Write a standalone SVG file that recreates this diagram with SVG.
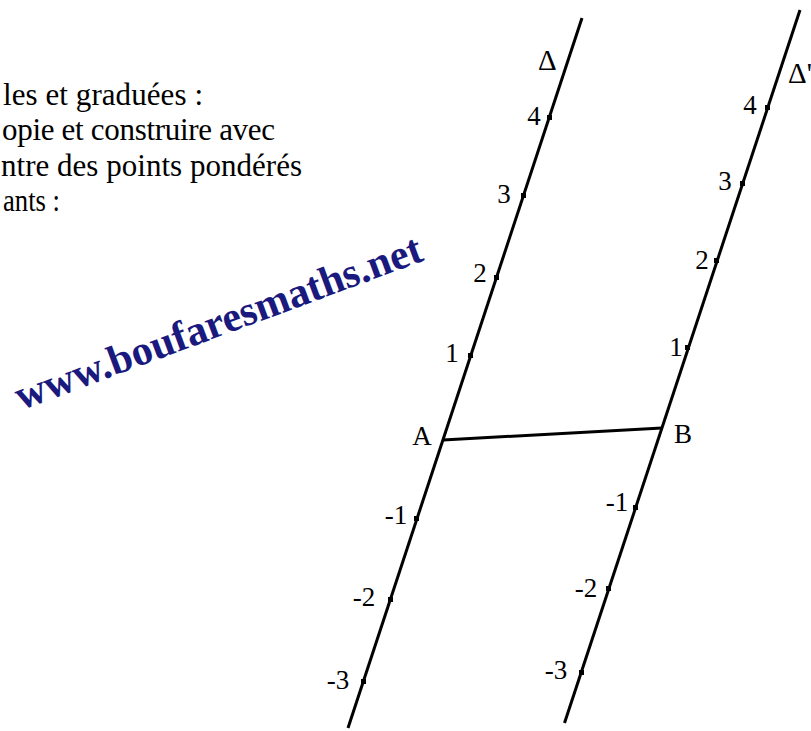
<svg xmlns="http://www.w3.org/2000/svg" width="811" height="731" viewBox="0 0 811 731">
<style>
.intro{font-family:"Liberation Serif","Times New Roman",serif;font-size:31px;fill:#000}
.lbl{font-family:"Liberation Serif","Times New Roman",serif;font-size:27px;fill:#000;text-anchor:middle}
.delta{font-family:"Liberation Serif","Times New Roman",serif;font-size:29px;fill:#000}
.axis{stroke:#000;stroke-width:3;fill:none;stroke-linecap:butt}
.tick{fill:#000}
.wm{font-family:"Liberation Serif","Times New Roman",serif;font-size:42px;font-weight:bold;fill:#1a1a7e;text-anchor:end}
</style>
<rect width="811" height="731" fill="#fff"/>
<g id="intro-text">
<text class="intro" x="3" y="105" textLength="200" lengthAdjust="spacing">les et graduées :</text>
<text class="intro" x="2" y="140" textLength="273" lengthAdjust="spacing">opie et construire avec</text>
<text class="intro" x="1" y="176" textLength="301" lengthAdjust="spacing">ntre des points pondérés</text>
<text class="intro" x="3" y="211" textLength="57" lengthAdjust="spacingAndGlyphs">ants :</text>
</g>
<g id="watermark">
<text class="wm" transform="translate(425,260) rotate(-20.4)" x="0" y="0">www.boufaresmaths.net</text>
</g>
<g id="connectors">
<line id="segment-AB" class="axis" x1="443" y1="440" x2="662" y2="428"/>
</g>
<g id="line-delta">
<line class="axis" x1="582" y1="18" x2="348" y2="728"/>
<rect class="tick" x="547" y="115" width="5" height="5"/>
<rect class="tick" x="521" y="193" width="5" height="5"/>
<rect class="tick" x="494" y="275" width="5" height="5"/>
<rect class="tick" x="468" y="353" width="5" height="5"/>
<rect class="tick" x="414" y="516" width="5" height="5"/>
<rect class="tick" x="388" y="597" width="5" height="5"/>
<rect class="tick" x="361" y="679" width="5" height="5"/>
<text class="delta" x="538" y="70">Δ</text>
<text class="lbl" x="534" y="125">4</text>
<text class="lbl" x="504" y="203">3</text>
<text class="lbl" x="480" y="282">2</text>
<text class="lbl" x="452" y="362">1</text>
<text class="lbl" x="396" y="524">-1</text>
<text class="lbl" x="364" y="606">-2</text>
<text class="lbl" x="338" y="689">-3</text>
</g>
<g id="line-delta-prime">
<line class="axis" x1="800" y1="10" x2="564.5" y2="723"/>
<rect class="tick" x="765" y="105" width="5" height="5"/>
<rect class="tick" x="740" y="181" width="5" height="5"/>
<rect class="tick" x="714" y="258" width="5" height="5"/>
<rect class="tick" x="685" y="345" width="5" height="5"/>
<rect class="tick" x="633" y="505" width="5" height="5"/>
<rect class="tick" x="606" y="586" width="5" height="5"/>
<rect class="tick" x="579" y="670" width="5" height="5"/>
<text class="delta" x="788" y="83">Δ'</text>
<text class="lbl" x="750" y="114">4</text>
<text class="lbl" x="725" y="190">3</text>
<text class="lbl" x="702" y="269">2</text>
<text class="lbl" x="676" y="356">1</text>
<text class="lbl" x="617" y="511">-1</text>
<text class="lbl" x="586" y="597">-2</text>
<text class="lbl" x="556" y="679">-3</text>
</g>
<g id="point-A">
<text class="lbl" x="422" y="445">A</text>
</g>
<g id="point-B">
<text class="lbl" x="683" y="443">B</text>
</g>
</svg>
